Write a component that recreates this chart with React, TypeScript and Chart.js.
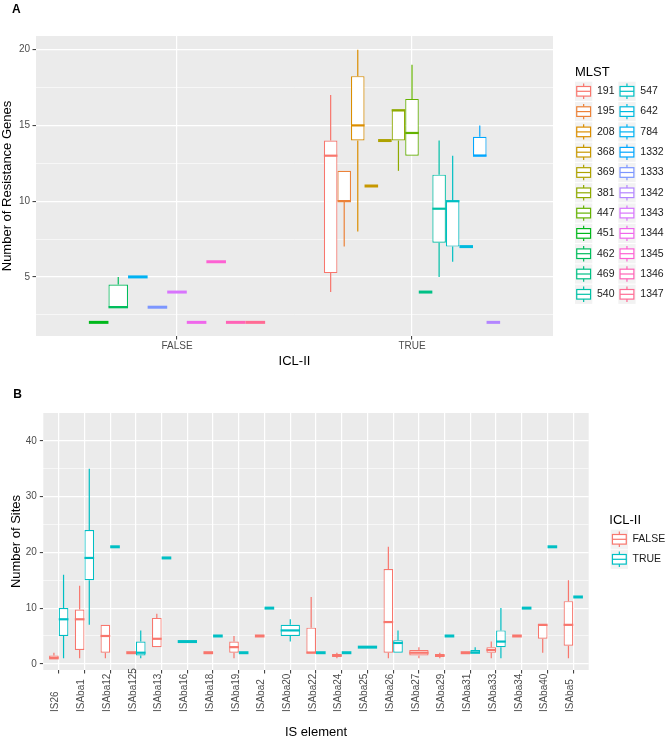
import React, { useEffect, useRef } from 'react';
import { Chart, registerables } from 'chart.js';

Chart.register(...registerables);

const FONT = "'Liberation Sans', Arial, Helvetica, sans-serif";

// ---------------- Panel A data ----------------
const iclCategories = ['FALSE', 'TRUE'];
const mlstGroups = ['191', '195', '208', '368', '369', '381', '447', '451', '462', '469', '540', '547', '642', '784', '1332', '1333', '1342', '1343', '1344', '1345', '1346', '1347'];
// index into iclCategories for each MLST group
const mlstIcl = [1, 1, 1, 1, 1, 1, 1, 0, 0, 1, 1, 1, 1, 0, 1, 0, 1, 0, 0, 0, 0, 0];
const mlstLower = [4, 7, 8, 11, 14, 12, 13, 2, 3, 4, 5, 6, 7, 5, 13, 3, 2, 4, 2, 6, 2, 2];
const mlstQ1 = [5.25, 10, 14, 11, 14, 14, 13, 2, 3, 4, 7.25, 7, 7, 5, 13, 3, 2, 4, 2, 6, 2, 2];
const mlstMedian = [13, 10, 15, 11, 14, 16, 14.5, 2, 3, 4, 9.5, 10, 7, 5, 13, 3, 2, 4, 2, 6, 2, 2];
const mlstQ3 = [14, 12, 18.25, 11, 14, 16, 16.75, 2, 4.5, 4, 11.75, 10, 7, 5, 14.25, 3, 2, 4, 2, 6, 2, 2];
const mlstUpper = [17, 12, 20, 11, 14, 16, 19, 2, 5, 4, 14, 13, 7, 5, 15, 3, 2, 4, 2, 6, 2, 2];
const resistanceMajorTicks = [5, 10, 15, 20];
const resistanceMinorTicks = [2.5, 7.5, 12.5, 17.5];

// ---------------- Panel B data ----------------
const isElements = ['IS26', 'ISAba1', 'ISAba12', 'ISAba125', 'ISAba13', 'ISAba16', 'ISAba18', 'ISAba19', 'ISAba2', 'ISAba20', 'ISAba22', 'ISAba24', 'ISAba25', 'ISAba26', 'ISAba27', 'ISAba29', 'ISAba31', 'ISAba33', 'ISAba34', 'ISAba40', 'ISAba5'];
const iclGroups = ['FALSE', 'TRUE'];
const falseLower = [1, 1, 1, 2, 3, null, 2, 1, 5, null, 2, 1, null, 1, 1, 1, 2, 1, 5, 2, 1];
const falseQ1 = [1, 2.5, 2, 2, 3, null, 2, 2, 5, null, 2, 1.25, null, 2, 1.5, 1.25, 2, 2, 5, 4.5, 3.25];
const falseMedian = [1, 8, 5, 2, 4.5, null, 2, 3, 5, null, 2, 1.5, null, 7.5, 2, 1.5, 2, 2.5, 5, 7, 7];
const falseQ3 = [1.5, 9.75, 7, 2, 8.25, null, 2, 4, 5, null, 6.5, 1.75, null, 17, 2.5, 1.75, 2, 3, 5, 7, 11.25];
const falseUpper = [2, 14, 7, 2, 9, null, 2, 5, 5, null, 12, 2, null, 21, 3, 2, 2, 4, 5, 7, 15];
const trueLower = [1, 7, 21, 1, 19, 4, 5, 2, 10, 4, 2, 2, 3, 2, null, 5, 2, 1, 10, 21, 12];
const trueQ1 = [5, 15, 21, 1.5, 19, 4, 5, 2, 10, 5, 2, 2, 3, 2, null, 5, 2, 3, 10, 21, 12];
const trueMedian = [8, 19, 21, 2, 19, 4, 5, 2, 10, 6, 2, 2, 3, 3.75, null, 5, 2, 4, 10, 21, 12];
const trueQ3 = [10, 24, 21, 4, 19, 4, 5, 2, 10, 7, 2, 2, 3, 4.25, null, 5, 2.5, 6, 10, 21, 12];
const trueUpper = [16, 35, 21, 6, 19, 4, 5, 2, 10, 8, 2, 2, 3, 6, null, 5, 3, 10, 10, 21, 12];
const sitesMajorTicks = [0, 10, 20, 30, 40];
const sitesMinorTicks = [5, 15, 25, 35];

// ---------------- colours (ggplot hue palette) ----------------
function hclHex(h: number, c = 100, l = 65): string {
  const hr = (h * Math.PI) / 180;
  const U = c * Math.cos(hr);
  const V = c * Math.sin(hr);
  const Xn = 95.047, Yn = 100, Zn = 108.883;
  const den = Xn + 15 * Yn + 3 * Zn;
  const un = (4 * Xn) / den;
  const vn = (9 * Yn) / den;
  const Y = l > 8 ? Yn * Math.pow((l + 16) / 116, 3) : (Yn * l) / 903.3;
  const u = U / (13 * l) + un;
  const v = V / (13 * l) + vn;
  const X = (Y * 9 * u) / (4 * v);
  const Z = (Y * (12 - 3 * u - 20 * v)) / (4 * v);
  const x = X / 100, y = Y / 100, z = Z / 100;
  const lin = [
    3.240479 * x - 1.53715 * y - 0.498535 * z,
    -0.969256 * x + 1.875992 * y + 0.041556 * z,
    0.055648 * x - 0.204043 * y + 1.057311 * z,
  ];
  return '#' + lin.map((t0) => {
    const t = Math.max(0, t0);
    const g = t <= 0.0031308 ? 12.92 * t : 1.055 * Math.pow(t, 1 / 2.4) - 0.055;
    const n = Math.round(Math.min(1, Math.max(0, g)) * 255);
    return n.toString(16).padStart(2, '0');
  }).join('');
}
function huePal(n: number): string[] {
  return Array.from({ length: n }, (_, i) => hclHex(15 + (360 * i) / n));
}
const colorsA = huePal(mlstGroups.length);
const colorsB = huePal(iclGroups.length);

// ---------------- helpers ----------------
function drawKey(ctx: CanvasRenderingContext2D, x: number, y: number, w: number, h: number, color: string) {
  ctx.fillStyle = '#F2F2F2';
  ctx.fillRect(x, y, w, h);
  const cx = x + w / 2;
  ctx.strokeStyle = color;
  ctx.lineWidth = 1.2;
  ctx.beginPath();
  ctx.moveTo(cx, y + 0.1 * h); ctx.lineTo(cx, y + 0.25 * h);
  ctx.moveTo(cx, y + 0.75 * h); ctx.lineTo(cx, y + 0.9 * h);
  ctx.stroke();
  ctx.fillStyle = '#FFFFFF';
  ctx.fillRect(x + 0.1 * w, y + 0.25 * h, 0.8 * w, 0.5 * h);
  ctx.strokeRect(x + 0.1 * w, y + 0.25 * h, 0.8 * w, 0.5 * h);
  ctx.beginPath();
  ctx.moveTo(x + 0.1 * w, y + 0.5 * h); ctx.lineTo(x + 0.9 * w, y + 0.5 * h);
  ctx.stroke();
}

const bgPlugin = {
  id: 'panelBg',
  beforeDraw(chart: any) {
    const { ctx, chartArea } = chart;
    ctx.save();
    ctx.fillStyle = '#EBEBEB';
    ctx.fillRect(chartArea.left, chartArea.top, chartArea.right - chartArea.left, chartArea.bottom - chartArea.top);
    ctx.restore();
  },
};

const whiskerPlugin = {
  id: 'whiskers',
  afterDatasetsDraw(chart: any) {
    const ctx = chart.ctx;
    const yS = chart.scales.y;
    ctx.save();
    chart.data.datasets.forEach((ds: any, di: number) => {
      const meta = chart.getDatasetMeta(di);
      meta.data.forEach((el: any, j: number) => {
        const raw = ds.data[j];
        if (!raw || raw.y == null) return;
        const [q1, q3] = raw.y;
        const x = el.x;
        const w = el.width;
        ctx.strokeStyle = ds.borderColor;
        ctx.lineWidth = 1.2;
        ctx.beginPath();
        if (raw.hi > q3) {
          ctx.moveTo(x, yS.getPixelForValue(q3));
          ctx.lineTo(x, yS.getPixelForValue(raw.hi));
        }
        if (raw.lo < q1) {
          ctx.moveTo(x, yS.getPixelForValue(q1));
          ctx.lineTo(x, yS.getPixelForValue(raw.lo));
        }
        ctx.stroke();
        ctx.lineWidth = q1 === q3 ? 3 : 2.2;
        const ym = yS.getPixelForValue(raw.med);
        ctx.beginPath();
        ctx.moveTo(x - w / 2, ym);
        ctx.lineTo(x + w / 2, ym);
        ctx.stroke();
      });
    });
    ctx.restore();
  },
};

interface AxisSpec {
  cats: string[];
  yMin: number;
  yMax: number;
  majors: number[];
  minors: number[];
  xTitle: string;
  yTitle: string;
  yWidth: number;
  xHeight: number;
  padding: { left: number; top: number; right: number; bottom: number };
  yTitlePadTop: number;
  xTitlePadBottom: number;
  yTickPad: number;
  showXTicks: boolean;
}

function makeOptions(s: AxisSpec): any {
  const tickFont = { family: FONT, size: 10 };
  const titleFont = { family: FONT, size: 13 };
  return {
    responsive: false,
    animation: false,
    events: [],
    layout: { padding: s.padding },
    plugins: { legend: { display: false }, tooltip: { enabled: false }, title: { display: false } },
    scales: {
      x: {
        type: 'linear',
        min: -0.6,
        max: s.cats.length - 0.4,
        offset: false,
        afterBuildTicks: (sc: any) => { sc.ticks = s.cats.map((_, i) => ({ value: i })); },
        afterFit: (sc: any) => { sc.height = s.xHeight; },
        ticks: {
          display: s.showXTicks,
          autoSkip: false,
          maxRotation: 0,
          minRotation: 0,
          padding: 0.5,
          color: '#4D4D4D',
          font: tickFont,
          callback: (_v: any, i: number) => s.cats[i],
        },
        grid: { offset: false, color: '#FFFFFF', lineWidth: 1.2, drawTicks: true, tickLength: 3.5, tickColor: '#333333', tickWidth: 1 },
        border: { display: false },
        title: { display: true, text: s.xTitle, color: '#000000', font: titleFont, padding: { top: 0, bottom: s.xTitlePadBottom } },
      },
      y: {
        type: 'linear',
        min: s.yMin,
        max: s.yMax,
        beginAtZero: false,
        afterBuildTicks: (sc: any) => {
          sc.ticks = [...s.minors, ...s.majors].sort((a, b) => a - b).map((v) => ({ value: v }));
        },
        afterFit: (sc: any) => { sc.width = s.yWidth; },
        ticks: {
          autoSkip: false,
          padding: s.yTickPad,
          color: '#4D4D4D',
          font: tickFont,
          callback: (v: any) => (s.majors.includes(Number(v)) ? String(v) : ''),
        },
        grid: {
          color: '#FFFFFF',
          lineWidth: (c: any) => (c.tick && s.majors.includes(c.tick.value) ? 1.2 : 0.6),
          drawTicks: true,
          tickLength: 3.5,
          tickWidth: 1,
          tickColor: (c: any) => (c.tick && s.majors.includes(c.tick.value) ? '#333333' : 'rgba(0,0,0,0)'),
        },
        border: { display: false },
        title: { display: true, text: s.yTitle, color: '#000000', font: titleFont, padding: { top: s.yTitlePadTop, bottom: 0 } },
      },
    },
  };
}

const barStyle = {
  backgroundColor: '#FFFFFF',
  borderWidth: 1.2,
  borderSkipped: false as const,
  categoryPercentage: 0.75,
  barPercentage: 1,
  skipNull: true,
  grouped: true,
};

export default function App() {
  const refA = useRef<HTMLCanvasElement>(null);
  const refB = useRef<HTMLCanvasElement>(null);

  useEffect(() => {
    if (!refA.current || !refB.current) return;

    // ---------- Chart A ----------
    const datasetsA = mlstGroups.map((g, i) => ({
      ...barStyle,
      label: g,
      borderColor: colorsA[i],
      data: iclCategories.map((_, c) =>
        c === mlstIcl[i]
          ? { x: c, y: [mlstQ1[i], mlstQ3[i]], lo: mlstLower[i], med: mlstMedian[i], hi: mlstUpper[i] }
          : { x: c, y: null }
      ),
    }));

    const decorA = {
      id: 'decorA',
      afterDraw(chart: any) {
        const ctx = chart.ctx;
        ctx.save();
        ctx.fillStyle = '#000000';
        ctx.font = `bold 12px ${FONT}`;
        ctx.textBaseline = 'alphabetic';
        ctx.textAlign = 'left';
        ctx.fillText('A', 12, 12.6);
        ctx.font = `13px ${FONT}`;
        ctx.fillText('MLST', 575, 75.5);
        const rows = Math.ceil(mlstGroups.length / 2);
        mlstGroups.forEach((g, i) => {
          const col = Math.floor(i / rows);
          const row = i % rows;
          const kx = col === 0 ? 575 : 618.3;
          const cy = 91.3 + row * 20.3;
          drawKey(ctx, kx, cy - 9.6, 17.3, 19.2, colorsA[i]);
          ctx.fillStyle = '#1A1A1A';
          ctx.font = `10.5px ${FONT}`;
          ctx.textBaseline = 'middle';
          ctx.fillText(g, kx + 22, cy);
        });
        ctx.restore();
      },
    };

    const chartA = new Chart(refA.current, {
      type: 'bar',
      data: { datasets: datasetsA as any },
      options: makeOptions({
        cats: iclCategories,
        yMin: 1.1,
        yMax: 20.9,
        majors: resistanceMajorTicks,
        minors: resistanceMinorTicks,
        xTitle: 'ICL-II',
        yTitle: 'Number of Resistance Genes',
        yWidth: 36,
        xHeight: 36,
        padding: { left: 0, top: 36, right: 113, bottom: 0 },
        yTitlePadTop: 0,
        xTitlePadBottom: 2.5,
        yTickPad: 2.5,
        showXTicks: true,
      }),
      plugins: [bgPlugin, whiskerPlugin, decorA],
    });

    // ---------- Chart B ----------
    const seriesB = [
      { lo: falseLower, q1: falseQ1, med: falseMedian, q3: falseQ3, hi: falseUpper },
      { lo: trueLower, q1: trueQ1, med: trueMedian, q3: trueQ3, hi: trueUpper },
    ];
    const datasetsB = iclGroups.map((g, gi) => ({
      ...barStyle,
      label: g,
      borderColor: colorsB[gi],
      data: isElements.map((_, i) => {
        const s = seriesB[gi];
        return s.q1[i] == null
          ? { x: i, y: null }
          : { x: i, y: [s.q1[i], s.q3[i]], lo: s.lo[i], med: s.med[i], hi: s.hi[i] };
      }),
    }));

    const decorB = {
      id: 'decorB',
      afterDraw(chart: any) {
        const ctx = chart.ctx;
        const xS = chart.scales.x;
        ctx.save();
        ctx.fillStyle = '#000000';
        ctx.font = `bold 12px ${FONT}`;
        ctx.textBaseline = 'alphabetic';
        ctx.textAlign = 'left';
        ctx.fillText('B', 13.3, 26.3);
        // rotated category labels
        ctx.fillStyle = '#4D4D4D';
        ctx.font = `10px ${FONT}`;
        isElements.forEach((lab, i) => {
          const px = xS.getPixelForValue(i);
          ctx.save();
          ctx.translate(px - 3, 340);
          ctx.rotate(-Math.PI / 2);
          ctx.textAlign = 'left';
          ctx.textBaseline = 'middle';
          ctx.fillText(lab, 0, 0);
          ctx.restore();
        });
        // legend
        ctx.fillStyle = '#000000';
        ctx.font = `13px ${FONT}`;
        ctx.textBaseline = 'alphabetic';
        ctx.fillText('ICL-II', 609.3, 152);
        iclGroups.forEach((g, i) => {
          const cy = 167.3 + i * 20;
          drawKey(ctx, 610.7, cy - 9.6, 17.3, 19.2, colorsB[i]);
          ctx.fillStyle = '#1A1A1A';
          ctx.font = `10.5px ${FONT}`;
          ctx.textBaseline = 'middle';
          ctx.fillText(g, 632.5, cy);
        });
        ctx.restore();
      },
    };

    const chartB = new Chart(refB.current, {
      type: 'bar',
      data: { datasets: datasetsB as any },
      options: makeOptions({
        cats: isElements,
        yMin: -1.1,
        yMax: 45,
        majors: sitesMajorTicks,
        minors: sitesMinorTicks,
        xTitle: 'IS element',
        yTitle: 'Number of Sites',
        yWidth: 43.3,
        xHeight: 71,
        padding: { left: 0, top: 41, right: 77.3, bottom: 0 },
        yTitlePadTop: 8.5,
        xTitlePadBottom: 0.5,
        yTickPad: 3,
        showXTicks: false,
      }),
      plugins: [bgPlugin, whiskerPlugin, decorB],
    });

    return () => {
      chartA.destroy();
      chartB.destroy();
    };
  }, []);

  return (
    <div style={{ position: 'absolute', left: 0, top: 0, width: 666, height: 741, background: '#FFFFFF' }}>
      <canvas ref={refA} width={666} height={372} style={{ position: 'absolute', left: 0, top: 0, width: 666, height: 372, display: 'block' }} />
      <canvas ref={refB} width={666} height={369} style={{ position: 'absolute', left: 0, top: 372, width: 666, height: 369, display: 'block' }} />
    </div>
  );
}
